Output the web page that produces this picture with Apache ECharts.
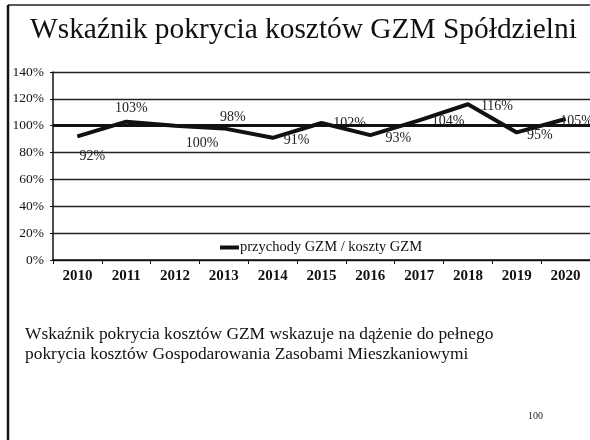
<!DOCTYPE html>
<html>
<head>
<meta charset="utf-8">
<script src="https://cdn.jsdelivr.net/npm/echarts@6/dist/echarts.min.js"></script>
<style>
  html, body { margin: 0; padding: 0; background: #fff; }
  #chart { width: 590px; height: 440px; }
</style>
</head>
<body>
<div id="chart"></div>
<script>
// Cost coverage ratio of GZM (revenues / costs), yearly
const years = ['2010', '2011', '2012', '2013', '2014', '2015', '2016', '2017', '2018', '2019', '2020'];
const coverage = [92, 103, 100, 98, 91, 102, 93, 104, 116, 95, 105];
const seriesName = 'przychody GZM / koszty GZM';
const titleText = 'Wskaźnik pokrycia kosztów GZM Spółdzielni';
const noteLines = [
  'Wskaźnik pokrycia kosztów GZM wskazuje na dążenie do pełnego',
  'pokrycia kosztów Gospodarowania Zasobami Mieszkaniowymi'
];
const pageNumber = '100';

// label placement next to each point (dx, dy from the point)
const labelOffsets = [
  [15, 20], [5, -13], [27, 18], [9, -11], [24, 3], [28, 0],
  [28, 3], [29, 1], [29, 2], [23, 3], [11, 2]
];

const serif = '"Liberation Serif", "DejaVu Serif", serif';

const chart = echarts.init(document.getElementById('chart'), null, { renderer: 'canvas' });

chart.setOption({
  backgroundColor: '#ffffff',
  animation: false,
  title: {
    text: titleText,
    left: 25,
    top: 11,
    textStyle: { fontFamily: serif, fontSize: 29.4, fontWeight: 'normal', color: '#111' }
  },
  legend: {
    data: [{ name: seriesName, icon: 'rect' }],
    left: 215,
    top: 235,
    itemWidth: 19,
    itemHeight: 4,
    itemGap: 0,
    textStyle: { fontFamily: serif, fontSize: 14.5, color: '#111', padding: [0, 0, 0, -4] }
  },
  grid: { left: 53, right: -2, top: 72, bottom: 180, containLabel: false },
  xAxis: {
    type: 'category',
    data: years,
    boundaryGap: true,
    axisLine: { lineStyle: { color: '#111', width: 1.5 } },
    axisTick: { show: true, length: 4, lineStyle: { color: '#111' } },
    axisLabel: { fontFamily: serif, fontSize: 15, fontWeight: 'bold', color: '#111', margin: 9 }
  },
  yAxis: {
    type: 'value',
    min: 0,
    max: 140,
    interval: 20,
    axisLine: { show: true, lineStyle: { color: '#111', width: 1.5 } },
    axisTick: { show: true, length: 3, lineStyle: { color: '#111' } },
    axisLabel: { formatter: '{value}%', fontFamily: serif, fontSize: 13.5, color: '#111', margin: 9 },
    splitLine: { lineStyle: { color: '#222', width: 1.3 } }
  },
  series: [{
    name: seriesName,
    type: 'line',
    data: coverage.map((v, i) => ({
      value: v,
      label: { offset: labelOffsets[i] }
    })),
    symbol: 'circle',
    symbolSize: 1,
    lineStyle: { color: '#111', width: 4 },
    itemStyle: { color: '#111' },
    label: {
      show: true,
      position: 'inside',
      formatter: '{c}%',
      fontFamily: serif,
      fontSize: 14,
      color: '#222'
    },
    markLine: {
      silent: true,
      symbol: 'none',
      label: { show: false },
      lineStyle: { color: '#111', width: 3, type: 'solid' },
      data: [{ yAxis: 100 }]
    },
    z: 3
  }],
  graphic: [
    { type: 'line', shape: { x1: 8, y1: 5, x2: 590, y2: 5 }, style: { stroke: '#222', lineWidth: 1.5 } },
    { type: 'line', shape: { x1: 8, y1: 5, x2: 8, y2: 440 }, style: { stroke: '#111', lineWidth: 2.5 } },
    { type: 'text', left: 25, top: 326, style: { text: noteLines[0], font: '17.4px ' + serif, fill: '#111' } },
    { type: 'text', left: 25, top: 346, style: { text: noteLines[1], font: '17.4px ' + serif, fill: '#111' } },
    { type: 'text', left: 528, top: 411, style: { text: pageNumber, font: '10px ' + serif, fill: '#222' } }
  ]
});
</script>
</body>
</html>
